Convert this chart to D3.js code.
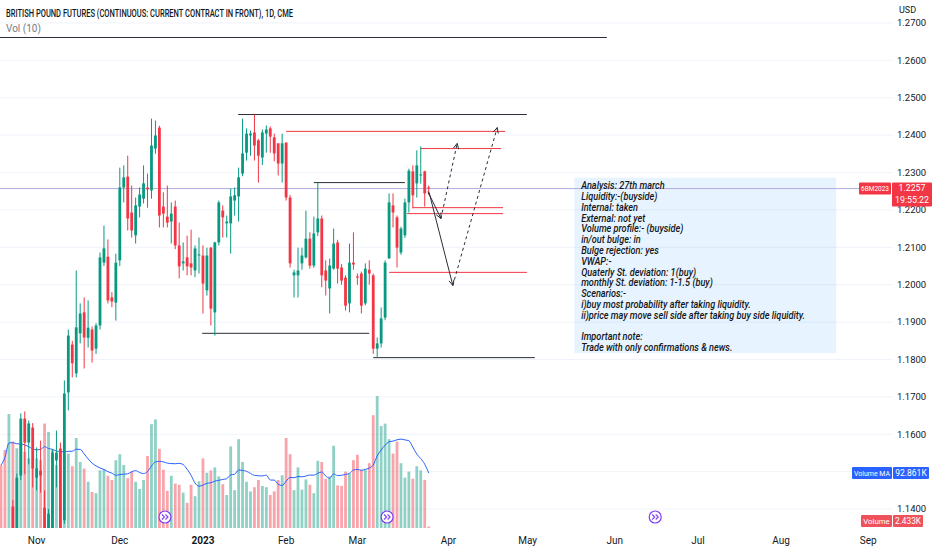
<!DOCTYPE html>
<html><head><meta charset="utf-8">
<script src="https://cdn.jsdelivr.net/npm/d3@7"></script>
<style>
body{margin:0;background:#fff}
svg{display:block}
text{font-family:Roboto,"Noto Sans","Liberation Sans",sans-serif}
</style>
</head><body>
<svg id="c" width="932" height="550"></svg>
<script>
// ---------------- DATA ----------------
const opens = [1.1265,1.1250,1.1210,1.1407,1.1330,1.1490,1.1642,1.1578,1.1618,1.1484,
1.1503,1.1404,1.1320,1.1345,1.1530,1.1562,1.1370,1.1712,1.1840,1.1763,
1.1870,1.1926,1.1858,1.1880,1.1829,1.1891,1.2059,1.2075,1.1966,1.1952,
1.2065,1.2260,1.2289,1.2193,1.2132,1.2209,1.2230,1.2260,1.2252,1.2364,
1.2420,1.2209,1.2182,1.2169,1.2209,1.2105,1.2057,1.2073,1.2057,1.2038,
1.2078,1.2078,1.1985,1.2099,1.1926,1.2113,1.2198,1.2164,1.2164,1.2225,
1.2236,1.2297,1.2353,1.2399,1.2407,1.2386,1.2340,1.2404,1.2418,1.2394,
1.2378,1.2324,1.2380,1.2233,1.2025,1.2025,1.2057,1.2073,1.2123,1.2051,
1.2140,1.2177,1.2038,1.1990,1.2043,1.2113,1.2046,1.2019,1.1950,1.2059,
1.2022,1.2030,1.1950,1.2040,1.2025,1.1829,1.1843,1.1912,1.2070,1.2212,
1.2180,1.2086,1.2132,1.2220,1.2303,1.2271,1.2292,1.2303,1.2260];
const highs = [1.1310,1.1300,1.1330,1.1425,1.1495,1.1656,1.1661,1.1637,1.1630,1.1565,
1.1583,1.1450,1.1400,1.1560,1.1610,1.1578,1.1744,1.1880,1.1850,1.2038,
1.1950,1.1966,1.1958,1.1888,1.1897,1.2086,1.2158,1.2121,1.1980,1.2083,
1.2313,1.2319,1.2345,1.2265,1.2233,1.2260,1.2319,1.2297,1.2444,1.2439,
1.2425,1.2247,1.2265,1.2220,1.2225,1.2166,1.2113,1.2131,1.2147,1.2105,
1.2126,1.2105,1.2099,1.2101,1.2115,1.2225,1.2212,1.2185,1.2257,1.2260,
1.2313,1.2444,1.2418,1.2412,1.2455,1.2390,1.2415,1.2426,1.2423,1.2404,
1.2378,1.2404,1.2380,1.2240,1.2040,1.2099,1.2099,1.2198,1.2140,1.2182,
1.2273,1.2185,1.2065,1.2070,1.2150,1.2120,1.2055,1.2025,1.2110,1.2140,
1.2030,1.2035,1.2057,1.2065,1.2030,1.1859,1.1939,1.2065,1.2244,1.2244,
1.2185,1.2155,1.2230,1.2310,1.2319,1.2359,1.2370,1.2305,1.2265];
const lows = [1.1215,1.1180,1.1195,1.1290,1.1315,1.1478,1.1493,1.1520,1.1458,1.1450,
1.1444,1.1280,1.1290,1.1335,1.1458,1.1330,1.1360,1.1664,1.1752,1.1752,
1.1843,1.1776,1.1832,1.1792,1.1815,1.1880,1.2050,1.1950,1.1940,1.1904,
1.2050,1.2220,1.2145,1.2126,1.2110,1.2180,1.2217,1.2206,1.2230,1.2350,
1.2153,1.2153,1.2153,1.2110,1.2095,1.2017,1.2038,1.2025,1.2025,1.2020,
1.2030,1.1923,1.1971,1.1891,1.1864,1.2105,1.2126,1.2126,1.2083,1.2185,
1.2169,1.2290,1.2332,1.2345,1.2332,1.2273,1.2320,1.2353,1.2353,1.2330,
1.2292,1.2273,1.2225,1.2046,1.1966,1.1966,1.2040,1.2070,1.2043,1.2045,
1.2130,1.1993,1.1971,1.1923,1.2040,1.2003,1.2000,1.1931,1.1926,1.2040,
1.2000,1.1923,1.1945,1.2000,1.1815,1.1805,1.1832,1.1905,1.2070,1.2153,
1.2046,1.2080,1.2125,1.2193,1.2204,1.2233,1.2270,1.2209,1.2240];
const closes = [1.1240,1.1210,1.1320,1.1330,1.1484,1.1642,1.1578,1.1629,1.1509,1.1509,
1.1490,1.1320,1.1388,1.1551,1.1551,1.1345,1.1709,1.1864,1.1790,1.1886,
1.1923,1.1859,1.1885,1.1824,1.1891,1.2073,1.2097,1.1958,1.1955,1.2059,
1.2260,1.2287,1.2177,1.2145,1.2212,1.2241,1.2271,1.2255,1.2372,1.2399,
1.2185,1.2190,1.2166,1.2190,1.2105,1.2049,1.2062,1.2049,1.2046,1.2097,
1.2081,1.2003,1.2078,1.1936,1.2113,1.2220,1.2180,1.2169,1.2236,1.2239,
1.2287,1.2351,1.2404,1.2404,1.2372,1.2345,1.2407,1.2415,1.2396,1.2351,
1.2324,1.2378,1.2233,1.2057,1.2033,1.2038,1.2078,1.2123,1.2051,1.2137,
1.2177,1.2025,1.2011,1.2051,1.2110,1.2043,1.2011,1.1944,1.2059,1.2054,
1.2019,1.1944,1.2043,1.2030,1.1829,1.1843,1.1910,1.2059,1.2220,1.2193,
1.2099,1.2150,1.2220,1.2305,1.2239,1.2319,1.2295,1.2244,1.2257];
// volume in thousands of contracts
const volumesK = [105,130,190,144,133,140,127,116,102,116,
113,174,160,130,105,130,124,124,103,150,
110,99,77,60,58,96,98,87,80,113,
123,105,83,94,77,65,80,120,173,181,
132,97,62,87,74,72,59,42,72,53,
78,116,92,96,101,86,73,55,136,63,
148,110,77,61,68,80,70,68,55,61,
80,88,150,123,63,101,64,81,72,58,
112,110,82,86,137,71,70,94,91,113,
122,97,97,108,188,220,170,174,148,124,
144,108,84,94,82,103,96,80,2.433];
const maPeriod = 10;

const monthTickIdx    = [9,30,51,72,90,113,133,155,176,197,219];
const monthTickLabels = ["Nov","Dec","2023","Feb","Mar","Apr","May","Jun","Jul","Aug","Sep"];
const priceTicks = [1.27,1.26,1.25,1.24,1.23,1.22,1.21,1.20,1.19,1.18,1.17,1.16,1.15,1.14];
const lastPrice = 1.2257;

// drawn horizontal levels: [price, fromIndex, toIndex]
const blackLevels = [[1.2661,-1,153],[1.2455,59.9,132.8],[1.2273,79,102],[1.1870,50.8,93],[1.1805,94,134.8]];
const redLevels   = [[1.2410,72,127.3],[1.2364,106,126.3],[1.2206,104,126.8],[1.2190,102.5,126.8],[1.2033,98,132.8]];
// projection arrows: [[fromIndex, fromPrice],[toIndex, toPrice]]
const solidArrows  = [[[107.8,1.2249],[111.1,1.2177]],[[108.1,1.2247],[114.1,1.1998]]];
const dashedArrows = [[[111.1,1.2177],[115.2,1.2378]],[[114.1,1.1998],[125.3,1.2420]]];
const rolloverIdx = [41.4,97.5,165.2];

const noteBox = {i0:144.8, i1:210.9, pTop:1.2286, pBot:1.1817};
const noteLines = ["Analysis: 27th march","Liquidity:-(buyside)","Internal: taken","External: not yet",
"Volume profile:- (buyside)","in/out bulge: in","Bulge rejection: yes","VWAP:-",
"Quaterly St. deviation: 1(buy)","monthly St. deviation: 1-1.5 (buy)","Scenarios:-",
"i)buy most probability after taking liquidity.","ii)price may move sell side after taking buy side liquidity.",
"","Important note:","Trade with only confirmations & news."];

const titleText = "BRITISH POUND FUTURES (CONTINUOUS: CURRENT CONTRACT IN FRONT), 1D, CME";
const symbolTag = "6BM2023";
const countdown = "19:55:22";
const maLast = "92.861K", volLast = "2.433K";

// ---------------- DRAW ----------------
const UP="#089981", DN="#f23645";
const svg = d3.select("#c");
const plotR = 859, plotB = 528;
const x  = d3.scaleLinear().domain([0,1]).range([1,4.96]);
const y  = d3.scaleLinear().domain([1.14,1.27]).range([509.1,22.9]);
const yV = d3.scaleLinear().domain([0,220]).range([plotB,396]);

svg.append("defs").append("clipPath").attr("id","clip")
  .append("rect").attr("x",0).attr("y",0).attr("width",plotR).attr("height",plotB);

// grid
svg.append("g").selectAll("line").data(priceTicks).join("line")
  .attr("x1",0).attr("x2",893).attr("y1",d=>y(d)).attr("y2",d=>y(d))
  .attr("stroke","#f0f3fa").attr("stroke-width",1);

const plot = svg.append("g").attr("clip-path","url(#clip)");
const bars = d3.range(opens.length).map(i=>({i,o:opens[i],h:highs[i],l:lows[i],c:closes[i],v:volumesK[i]}));

// note box
plot.append("rect").attr("x",x(noteBox.i0)).attr("y",y(noteBox.pTop))
  .attr("width",x(noteBox.i1)-x(noteBox.i0)).attr("height",y(noteBox.pBot)-y(noteBox.pTop))
  .attr("fill","rgba(33,150,243,0.11)");

// volume
const bw = 2.8;
plot.append("g").selectAll("rect").data(bars).join("rect")
  .attr("x",d=>x(d.i)-bw/2).attr("width",bw)
  .attr("y",d=>yV(d.v)).attr("height",d=>plotB-yV(d.v))
  .attr("fill",d=>d.c>=d.o?"rgba(8,153,129,0.45)":"rgba(242,54,69,0.45)");

// volume MA
const ma = bars.map(d=>{const s=Math.max(0,d.i-maPeriod+1);return {i:d.i,v:d3.mean(volumesK.slice(s,d.i+1))};});
plot.append("path").datum(ma)
  .attr("d",d3.line().x(d=>x(d.i)).y(d=>yV(d.v)).curve(d3.curveMonotoneX))
  .attr("fill","none").attr("stroke","#2962ff").attr("stroke-width",1);

// last price line
plot.append("line").attr("x1",0).attr("x2",plotR).attr("y1",y(lastPrice)).attr("y2",y(lastPrice))
  .attr("stroke","#b2acdf").attr("stroke-width",1);

// levels
function levels(arr,color){
  plot.append("g").selectAll("line").data(arr).join("line")
    .attr("x1",d=>x(d[1])).attr("x2",d=>x(d[2])).attr("y1",d=>y(d[0])).attr("y2",d=>y(d[0]))
    .attr("stroke",color).attr("stroke-width",1);
}
levels(blackLevels,"#2a2e39");
levels(redLevels,"#f23645");

// candles
const cg = plot.append("g");
cg.selectAll("line").data(bars).join("line")
  .attr("x1",d=>x(d.i)).attr("x2",d=>x(d.i)).attr("y1",d=>y(d.h)).attr("y2",d=>y(d.l))
  .attr("stroke",d=>d.c>=d.o?UP:DN).attr("stroke-width",1);
cg.selectAll("rect").data(bars).join("rect")
  .attr("x",d=>x(d.i)-bw/2).attr("width",bw)
  .attr("y",d=>y(Math.max(d.o,d.c))).attr("height",d=>Math.max(1,Math.abs(y(d.o)-y(d.c))))
  .attr("fill",d=>d.c>=d.o?UP:DN);

// arrows
function arrows(arr,dash){
  const g = plot.append("g");
  arr.forEach(a=>{
    const x1=x(a[0][0]),y1=y(a[0][1]),x2=x(a[1][0]),y2=y(a[1][1]);
    g.append("line").attr("x1",x1).attr("y1",y1).attr("x2",x2).attr("y2",y2)
      .attr("stroke","#2a2e39").attr("stroke-width",1).attr("stroke-dasharray",dash?"3,3":null);
    const ang=Math.atan2(y2-y1,x2-x1), L=6;
    [0.45,-0.45].forEach(o=>{
      g.append("line").attr("x1",x2).attr("y1",y2)
        .attr("x2",x2-L*Math.cos(ang+o)).attr("y2",y2-L*Math.sin(ang+o))
        .attr("stroke","#2a2e39").attr("stroke-width",1);
    });
  });
}
arrows(solidArrows,false);
arrows(dashedArrows,true);

// rollover icons
const ig = svg.append("g").selectAll("g").data(rolloverIdx).join("g")
  .attr("transform",d=>`translate(${x(d)},517)`);
ig.append("circle").attr("r",6).attr("fill","#fff").attr("stroke","#7e3ff2").attr("stroke-width",1.2);
ig.append("path").attr("d","M-3,-2.5 L-0.5,0 L-3,2.5 M0.5,-2.5 L3,0 L0.5,2.5")
  .attr("fill","none").attr("stroke","#7e3ff2").attr("stroke-width",1.1);

// note text
const ng = svg.append("g").attr("transform",`translate(${x(146.5)},${y(1.2255)})`);
const tg = ng.append("g");
tg.selectAll("text").data(noteLines).join("text")
  .attr("x",0).attr("y",(d,k)=>k*10.78)
  .attr("font-size",10.6).attr("font-style","italic").attr("font-weight",500).attr("fill","#131722").text(d=>d);
let maxW=0; tg.selectAll("text").each(function(){maxW=Math.max(maxW,this.getComputedTextLength());});
tg.attr("transform",`scale(${224/maxW},1)`);

// header
svg.append("text").attr("x",6).attr("y",17).attr("font-size",10.5).attr("font-weight",500)
  .attr("fill","#131722").attr("textLength",287).attr("lengthAdjust","spacingAndGlyphs").text(titleText);
svg.append("text").attr("x",6).attr("y",32).attr("font-size",10).attr("fill","#787b86").text("Vol (10)");

// volume MA last value position (used to keep axis labels clear of its tag)
const mly = yV(ma[ma.length-1].v);

// right axis
svg.append("text").attr("x",899).attr("y",13).attr("font-size",9).attr("fill","#131722").text("USD");
svg.append("g").selectAll("text").data(priceTicks.filter(p=>Math.abs(y(p)-mly)>9 && Math.abs(y(p)-521)>9)).join("text")
  .attr("x",897).attr("y",d=>y(d)+3.3).attr("font-size",9.5).attr("fill","#131722")
  .text(d=>d.toFixed(4));

// time axis
svg.append("g").selectAll("text").data(monthTickIdx).join("text")
  .attr("x",d=>x(d)).attr("y",544).attr("text-anchor","middle").attr("font-size",10)
  .attr("font-weight",(d,k)=>monthTickLabels[k]==="2023"?700:400)
  .attr("fill","#131722").text((d,k)=>monthTickLabels[k]);

// tags
function tag(x0,y0,w,h,fill,lines,fs){
  svg.append("rect").attr("x",x0).attr("y",y0).attr("width",w).attr("height",h).attr("fill",fill).attr("rx",1);
  lines.forEach((t,k)=>{
    const tx = svg.append("text").attr("x",x0+w/2).attr("y",y0+h/(lines.length*2)*(2*k+1)+2.8)
      .attr("text-anchor","middle").attr("font-size",fs).attr("fill","#fff").text(t);
    const tw = tx.node().getComputedTextLength();
    if (tw > w-4) tx.attr("textLength",w-4).attr("lengthAdjust","spacingAndGlyphs");
  });
}
const ly = y(lastPrice);
tag(859,ly-6,32,12,DN,[symbolTag],7.8);
tag(892,ly-6,40,24,DN,[lastPrice.toFixed(4),countdown],8.8);
tag(852,mly-6,40,12,"#2962ff",["Volume MA"],7.8);
tag(893,mly-6,36,12,"#2962ff",[maLast],8.5);
tag(861,515,31,12,"#f0525c",["Volume"],7.8);
tag(893,515,30,12,"#f0525c",[volLast],8.5);
</script>
</body></html>
